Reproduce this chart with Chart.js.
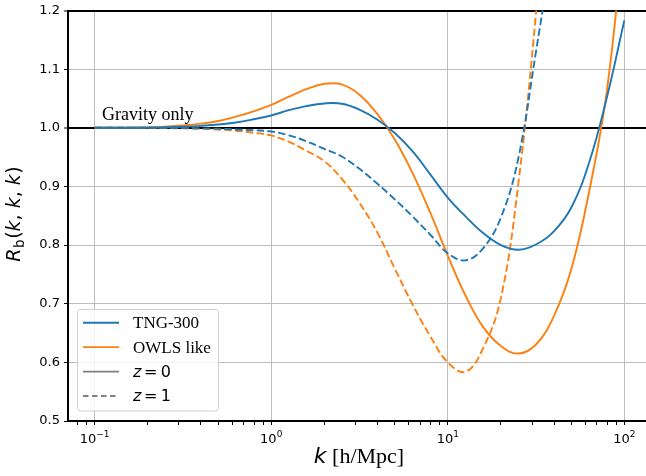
<!DOCTYPE html>
<html lang="en">
<head>
<meta charset="UTF-8" />
<title>Equilateral bispectrum ratio</title>
<script src="https://cdn.jsdelivr.net/npm/chart.js"></script>
<style>
  html, body { margin: 0; padding: 0; background: #fff; }
  #wrap { width: 646px; height: 476px; }
</style>
</head>
<body>
<div id="wrap"><canvas id="rbChart" width="646" height="476"></canvas></div>
<script>
// wavenumbers k [h/Mpc], a tenth of a decade apart
const kValues = [0.1, 0.126, 0.158, 0.2, 0.251, 0.316, 0.398, 0.501, 0.631, 0.794,
  1, 1.26, 1.58, 2, 2.51, 3.16, 3.98, 5.01, 6.31, 7.94,
  10, 12.6, 15.8, 20, 25.1, 31.6, 39.8, 50.1, 63.1, 79.4, 100];

// R_b(k,k,k) for each model and redshift (values above 1.2 run off the top)
const tngZ0 = [1.0, 1.0, 1.0, 1.0003, 1.0008, 1.0018, 1.0033, 1.0055, 1.009, 1.0145,
  1.021, 1.030, 1.037, 1.0415, 1.041, 1.031, 1.014, 0.991, 0.960, 0.921,
  0.881, 0.849, 0.821, 0.800, 0.792, 0.801, 0.823, 0.864, 0.940, 1.050, 1.183];
const owlsZ0 = [1.0, 1.0, 1.0002, 1.0008, 1.002, 1.004, 1.007, 1.0115, 1.019, 1.028,
  1.039, 1.053, 1.066, 1.075, 1.074, 1.0565, 1.024, 0.980, 0.923, 0.856,
  0.782, 0.714, 0.661, 0.628, 0.615, 0.6305, 0.678, 0.759, 0.890, 1.06, 1.335];
const tngZ1 = [1.0, 1.0, 1.0, 1.0, 0.9998, 0.9995, 0.999, 0.9983, 0.9972, 0.9958,
  0.9937, 0.987, 0.977, 0.964, 0.951, 0.930, 0.905, 0.878, 0.849, 0.818,
  0.786, 0.774, 0.794, 0.847, 0.948, 1.13, 1.32, null, null, null, null];
const owlsZ1 = [1.0, 1.0, 1.0, 0.9998, 0.9995, 0.999, 0.9983, 0.997, 0.995, 0.9915,
  0.987, 0.976, 0.961, 0.943, 0.913, 0.872, 0.822, 0.760, 0.699, 0.645,
  0.600, 0.584, 0.623, 0.710, 0.905, 1.195, 1.55, null, null, null, null];

const seriesNames = ['TNG-300', 'OWLS like'];
const seriesColors = ['#1f77b4', '#ff7f0e'];
const redshiftNames = ['0', '1'];

const xMajorTicks = [0.1, 1, 10, 100];
const xTickExponents = ['\u22121', '0', '1', '2'];
const yTickStep = 0.1;

const gravityLabel = 'Gravity only';
const gravityLabelAt = [0.11, 1.0135];

const xMin = 0.0706, xMax = 132.7;
const yMin = 0.5, yMax = 1.2;

const dashPattern = [7.5, 3.3];
const mathFont = '"DejaVu Sans"';
const textFont = '"Liberation Serif"';

function pts(ys) {
  return kValues.map((k, i) => ({ x: k, y: ys[i] }));
}

function isMajor(v) {
  return xMajorTicks.findIndex(m => Math.abs(v / m - 1) < 1e-6);
}

// log-axis ticks: decades plus 2..9 in between
const xAllTicks = [];
for (let e = -2; e <= 2; e++) {
  for (let m = 1; m <= 9; m++) {
    const v = m * Math.pow(10, e);
    if (v >= xMin && v <= xMax) xAllTicks.push(v);
  }
}

const datasets = [
  { label: 'TNG z0', data: pts(tngZ0), borderColor: seriesColors[0], borderDash: [] },
  { label: 'TNG z1', data: pts(tngZ1), borderColor: seriesColors[0], borderDash: dashPattern },
  { label: 'OWLS z0', data: pts(owlsZ0), borderColor: seriesColors[1], borderDash: [] },
  { label: 'OWLS z1', data: pts(owlsZ1), borderColor: seriesColors[1], borderDash: dashPattern }
].map(d => Object.assign(d, {
  borderWidth: 1.9,
  pointRadius: 0,
  fill: false,
  tension: 0.4,
  capBezierPoints: false,
  spanGaps: false
}));

// draws a run of [text, font, dy, gapAfter] pieces starting at x, returns the end x
function drawRuns(ctx, runs, x, y) {
  runs.forEach(r => {
    ctx.font = r[1];
    ctx.fillText(r[0], x, y + (r[2] || 0));
    x += ctx.measureText(r[0]).width + (r[3] || 0);
  });
  return x;
}
function runsWidth(ctx, runs) {
  let w = 0;
  runs.forEach(r => { ctx.font = r[1]; w += ctx.measureText(r[0]).width + (r[3] || 0); });
  return w;
}

const textPlugin = {
  id: 'textPlugin',
  afterDatasetsDraw(chart) {
    const { ctx, scales } = chart;
    ctx.save();
    ctx.fillStyle = '#000';
    ctx.textBaseline = 'alphabetic';
    ctx.textAlign = 'left';
    ctx.font = '18px ' + textFont;
    ctx.fillText(gravityLabel, scales.x.getPixelForValue(gravityLabelAt[0]),
      scales.y.getPixelForValue(gravityLabelAt[1]));
    ctx.restore();
  },
  afterDraw(chart) {
    const { ctx, scales } = chart;
    ctx.save();
    ctx.fillStyle = '#000';
    ctx.textBaseline = 'alphabetic';
    ctx.textAlign = 'left';

    // decade labels 10^n under the x axis
    xMajorTicks.forEach((v, i) => {
      const runs = [['10', '13px ' + mathFont, 0, 0], [xTickExponents[i], '9px ' + mathFont, -6, 0]];
      const w = runsWidth(ctx, runs);
      drawRuns(ctx, runs, scales.x.getPixelForValue(v) - w / 2, scales.x.top + 21.5);
    });

    // x axis title
    const xRuns = [
      ['k', 'italic 22px ' + mathFont, 0, 0],
      [' [h/Mpc]', '22px ' + textFont, 0, 0]
    ];
    const xw = runsWidth(ctx, xRuns);
    drawRuns(ctx, xRuns, 359 - xw / 2, 463);

    // y axis title, rotated
    const it = 'italic 19px ' + mathFont, up = '19px ' + mathFont;
    const yRuns = [
      ['R', it, 0, 0.5], ['b', '13.5px ' + mathFont, 4, 0.5], ['(', up, 0, 0],
      ['k', it, 0, 0], [', ', up, 0, 0], ['k', it, 0, 0], [', ', up, 0, 0],
      ['k', it, 0, 0.5], [')', up, 0, 0]
    ];
    const yw = runsWidth(ctx, yRuns);
    ctx.translate(20, 214);
    ctx.rotate(-Math.PI / 2);
    drawRuns(ctx, yRuns, -yw / 2, 0);
    ctx.restore();

    // legend
    ctx.save();
    const bx = 77.5, by = 309.5, bw = 141, bh = 101.5;
    ctx.beginPath();
    ctx.roundRect(bx, by, bw, bh, 3);
    ctx.fillStyle = 'rgba(255,255,255,0.8)';
    ctx.fill();
    ctx.strokeStyle = '#d0d0d0';
    ctx.lineWidth = 1;
    ctx.stroke();

    const rows = [
      { color: seriesColors[0], dash: [], text: seriesNames[0] },
      { color: seriesColors[1], dash: [], text: seriesNames[1] },
      { color: '#7f7f7f', dash: [], z: redshiftNames[0] },
      { color: '#7f7f7f', dash: [5.5, 3.5], z: redshiftNames[1] }
    ];
    rows.forEach((r, i) => {
      const cy = 322.7 + i * 24.45;
      ctx.beginPath();
      ctx.setLineDash(r.dash);
      ctx.strokeStyle = r.color;
      ctx.lineWidth = 1.9;
      ctx.moveTo(83, cy);
      ctx.lineTo(119, cy);
      ctx.stroke();
      ctx.setLineDash([]);
      ctx.fillStyle = '#000';
      if (r.text) {
        ctx.font = '17px ' + textFont;
        ctx.fillText(r.text, 133, cy + 5.6);
      } else {
        drawRuns(ctx, [
          ['z', 'italic 16px ' + mathFont, 0, 2.5],
          ['=', '16px ' + mathFont, 0, 3.5],
          [r.z, '16px ' + mathFont, 0, 0]
        ], 133, cy + 5.4);
      }
    });
    ctx.restore();
  }
};

new Chart(document.getElementById('rbChart'), {
  type: 'line',
  data: { datasets },
  plugins: [textPlugin],
  options: {
    responsive: false,
    animation: false,
    events: [],
    layout: { padding: { top: 7, left: 0, right: 0, bottom: 0 } },
    plugins: { legend: { display: false }, tooltip: { enabled: false } },
    scales: {
      x: {
        type: 'logarithmic',
        min: xMin,
        max: xMax,
        afterBuildTicks(scale) {
          scale.ticks = xAllTicks.map(v => ({ value: v, major: isMajor(v) >= 0 }));
        },
        afterFit(scale) { scale.height = 55; },
        border: { color: '#000', width: 2 },
        grid: {
          color: ctx => (ctx.tick && isMajor(ctx.tick.value) >= 0) ? '#bdbdbd' : 'rgba(0,0,0,0)',
          lineWidth: 1,
          tickColor: '#000',
          tickLength: 4,
          tickWidth: 1
        },
        ticks: { display: false, autoSkip: false, maxRotation: 0 }
      },
      y: {
        type: 'linear',
        min: yMin,
        max: yMax,
        afterFit(scale) { scale.width = 68; },
        border: { color: '#000', width: 2 },
        grid: {
          color: ctx => {
            const v = ctx.tick ? ctx.tick.value : 0;
            if (Math.abs(v - 1.2) < 1e-6 || Math.abs(v - 1.0) < 1e-6) return '#000';
            if (Math.abs(v - 0.5) < 1e-6) return 'rgba(0,0,0,0)';
            return '#bdbdbd';
          },
          lineWidth: ctx => {
            const v = ctx.tick ? ctx.tick.value : 0;
            return (Math.abs(v - 1.2) < 1e-6 || Math.abs(v - 1.0) < 1e-6) ? 2 : 1;
          },
          tickColor: '#000',
          tickLength: 4,
          tickWidth: 1
        },
        ticks: {
          stepSize: yTickStep,
          padding: 4,
          color: '#000',
          font: { family: 'DejaVu Sans', size: 13, lineHeight: 1 },
          callback: v => Number(v).toFixed(1)
        }
      }
    }
  }
});
</script>
</body>
</html>
